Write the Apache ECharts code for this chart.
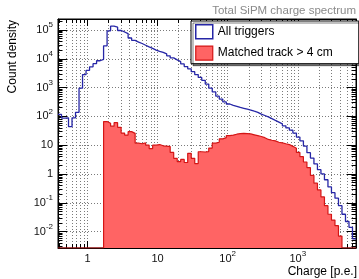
<!DOCTYPE html>
<html lang="en">
<head>
  <meta charset="utf-8">
  <style>
    html, body { margin: 0; background: #fff; }
    #container { width: 359px; height: 279px; }
  </style>
</head>
<body>
  <div id="container"></div>
  <script src="https://cdn.jsdelivr.net/npm/echarts@6.0.0/dist/echarts.min.js"></script>
  <script>
    // histogram binning: 20 bins per decade of charge, first edge at 10^-0.42
    var binLog0 = -0.42;
    var binLogStep = 0.05;

    // count density per bin
    var allTriggers = [
      117, 87, 89, 44, 89, 138, 955, 2820, 3980, 5250,
      6760, 8510, 9550, 28200, 93300, 135000, 126000, 95500, 85100, 74100,
      52500, 43600, 38000, 33900, 29500, 25700, 22900, 20000, 18200, 16600,
      14800, 12600, 10700, 9120, 7940, 6610, 5370, 4470, 3550, 2820,
      2240, 1780, 1320, 955, 708, 501, 398, 316, 269, 240,
      224, 204, 191, 178, 166, 151, 138, 120, 107, 95.5,
      83.2, 72.4, 63.1, 55, 46.8, 39.8, 33.1, 26.3, 19.1, 14.1,
      9.33, 5.5, 3.55, 2.24, 1.41, 1.0, 0.63, 0.355, 0.224, 0.145,
      0.079, 0.04, 0.0224, 0.0141, 0.0056
    ];
    var matchedTrack = [
      0, 0, 0, 0, 0, 0, 0, 0, 0, 0,
      0, 0, 0, 66, 57.5, 45.7, 60.3, 41.7, 26.3, 22.4,
      29.5, 25.7, 11.7, 11.2, 12, 10, 7.6, 10, 10.5, 9.5,
      9.3, 8.9, 5.6, 3.5, 2.7, 3.2, 2.5, 5.2, 3.5, 2.3,
      5.9, 5.8, 6.0, 7.9, 11.7, 12.6, 16.6, 18.2, 21.4, 22.4,
      24, 25.1, 25.7, 25.1, 24.5, 22.9, 21.4, 20, 18.2, 15.8,
      14.8, 14.1, 12.6, 12, 11.2, 10.5, 9.1, 7.8, 5.6, 4.0,
      2.6, 1.66, 0.89, 0.48, 0.28, 0.16, 0.079, 0.04, 0.025, 0.016,
      0.007, 0, 0, 0, 0
    ];

    // axes, in log10 units
    var xRangeLog = [-0.42, 3.83];
    var yRangeLog = [-2.57, 5.38];
    var xTickExp = [0, 1, 2, 3];
    var yTickExp = [-2, -1, 0, 1, 2, 3, 4, 5];

    var FONT = 'Liberation Sans, Arial, sans-serif';
    var BLUE = '#2626a6';
    var RED_LINE = '#d41515';
    var RED_FILL = '#ff6464';

    // secondary log ticks (2..9 of each decade)
    function minorTicks(range) {
      var out = [];
      for (var e = Math.floor(range[0]); e <= Math.ceil(range[1]); e++) {
        for (var k = 2; k <= 9; k++) {
          var v = e + Math.log10(k);
          if (v > range[0] && v < range[1]) out.push(v);
        }
      }
      return out;
    }

    // histogram -> step points, empty bins sit on the bottom of the frame
    function stepData(vals) {
      var pts = [];
      for (var i = 0; i < vals.length; i++) {
        var y = vals[i] > 0 ? Math.log10(vals[i]) : yRangeLog[0];
        pts.push([binLog0 + i * binLogStep, y]);
      }
      pts.push([binLog0 + vals.length * binLogStep, pts[pts.length - 1][1]]);
      return pts;
    }

    function powLabel(v) {
      var e = Math.round(v);
      if (e === 0) return '{b|1}';
      if (e === 1) return '{b|10}';
      return '{b|10}{s|' + e + '}';
    }

    var labelRich = {
      b: { fontSize: 11, lineHeight: 18, verticalAlign: 'middle', fontFamily: FONT, color: '#111' },
      s: { fontSize: 8, lineHeight: 18, verticalAlign: 'top', fontFamily: FONT, color: '#111' }
    };

    function axis(dim, pos, values, len, opts) {
      var range = dim === 'x' ? xRangeLog : yRangeLog;
      return {
        type: 'value',
        position: pos,
        min: range[0],
        max: range[1],
        axisLine: { show: !!opts.line, onZero: false, lineStyle: { color: '#000', width: 1 } },
        axisTick: { show: true, inside: true, length: len, customValues: values,
                    lineStyle: { color: '#000', width: 1 } },
        axisLabel: opts.labels ? {
          show: true,
          customValues: values,
          margin: dim === 'x' ? 2 : 5,
          formatter: powLabel,
          rich: labelRich
        } : { show: false },
        splitLine: { show: !!opts.grid, lineStyle: { color: '#7a7a7a', width: 1, type: [1, 2] } }
      };
    }

    var xMinor = minorTicks(xRangeLog);
    var yMinor = minorTicks(yRangeLog);

    var myChart = echarts.init(document.getElementById('container'), null, { renderer: 'canvas' });

    var option = {
      animation: false,
      backgroundColor: '#fff',
      title: {
        text: 'Total SiPM charge spectrum',
        right: 3,
        top: 5,
        padding: 0,
        textStyle: { fontFamily: FONT, fontSize: 11.5, fontWeight: 'normal', color: '#8a8a8a' }
      },
      grid: { left: 58, right: 3, top: 19, bottom: 31, show: true, borderColor: '#000', borderWidth: 1 },
      legend: {
        orient: 'vertical',
        left: 191,
        top: 21,
        padding: [3, 26, 3, 4],
        itemWidth: 17,
        itemHeight: 14,
        itemGap: 6,
        selectedMode: false,
        backgroundColor: '#fff',
        borderColor: '#000',
        borderWidth: 1,
        shadowColor: 'rgba(0,0,0,0.5)',
        shadowBlur: 0,
        shadowOffsetX: 2,
        shadowOffsetY: 2,
        textStyle: { fontFamily: FONT, fontSize: 12, color: '#000' },
        data: [
          { name: 'All triggers', icon: 'rect',
            itemStyle: { color: '#fff', borderColor: BLUE, borderWidth: 1.5 } },
          { name: 'Matched track > 4 cm', icon: 'rect',
            itemStyle: { color: RED_FILL, borderColor: RED_LINE, borderWidth: 1.2 } }
        ]
      },
      xAxis: [
        axis('x', 'bottom', xTickExp, 7, { line: true, labels: true, grid: true }),
        axis('x', 'bottom', xMinor, 4, { grid: true }),
        axis('x', 'top', xTickExp, 7, { line: true }),
        axis('x', 'top', xMinor, 4, {})
      ],
      yAxis: [
        axis('y', 'left', yTickExp, 9, { line: true, labels: true, grid: true }),
        axis('y', 'left', yMinor, 4.5, {}),
        axis('y', 'right', yTickExp, 9, { line: true }),
        axis('y', 'right', yMinor, 4.5, {})
      ],
      graphic: [
        { type: 'text', x: 13, y: 20, rotation: Math.PI / 2,
          style: { text: 'Count density', fontFamily: FONT, fontSize: 12, fill: '#000',
                   align: 'right', verticalAlign: 'middle' } },
        { type: 'text', x: 357, y: 272,
          style: { text: 'Charge [p.e.]', fontFamily: FONT, fontSize: 12, fill: '#000',
                   align: 'right', verticalAlign: 'middle' } }
      ],
      series: [
        {
          name: 'All triggers',
          type: 'line',
          step: 'end',
          xAxisIndex: 0,
          yAxisIndex: 0,
          showSymbol: false,
          data: stepData(allTriggers),
          lineStyle: { color: BLUE, width: 1.3 },
          itemStyle: { color: BLUE },
          z: 4
        },
        {
          name: 'Matched track > 4 cm',
          type: 'line',
          step: 'end',
          xAxisIndex: 0,
          yAxisIndex: 0,
          showSymbol: false,
          data: stepData(matchedTrack),
          lineStyle: { color: RED_LINE, width: 1.2 },
          itemStyle: { color: RED_FILL },
          areaStyle: { color: RED_FILL, opacity: 1, origin: 'start' },
          z: 3
        }
      ]
    };

    myChart.setOption(option);
    window.addEventListener('resize', myChart.resize);
  </script>
</body>
</html>
